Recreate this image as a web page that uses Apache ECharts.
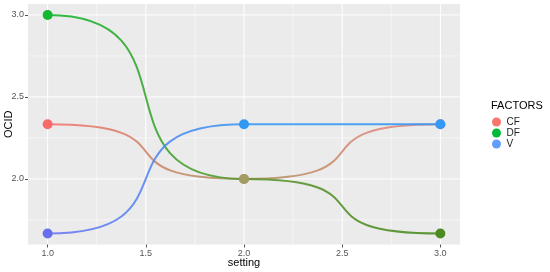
<html style="height: 100%">
<head>
	<meta charset="utf-8">
</head>
<body style="height: 100%; width: 100%; margin: 0">
	<div id="container" style="height: 100%; width: 100%;"></div>
	<script src="https://cdn.jsdelivr.net/npm/echarts@6/dist/echarts.min.js"></script>
	<script type="text/javascript">
		// data
		var settings = [1, 2, 3];
		var factors = ['CF', 'DF', 'V'];
		var cf = [2.333, 2.0, 2.333];
		var df = [3.0, 2.0, 1.667];
		var v = [1.667, 2.333, 2.333];
		var xTicks = [1.0, 1.5, 2.0, 2.5, 3.0];
		var xMinor = [1.25, 1.75, 2.25, 2.75];
		var yTicks = [2.0, 2.5, 3.0];
		var yMinor = [1.75, 2.25, 2.75];

		var legendColors = ['#F8766D', '#00BA38', '#619CFF'];
		// colours along each segment (start, end) and at each point
		var segColors = {
			CF: [['rgba(246,112,108,0.85)', 'rgba(170,150,100,0.9)'], ['rgba(170,150,100,0.9)', 'rgba(244,128,128,0.85)']],
			DF: [['rgba(20,184,50,0.9)', 'rgba(96,150,50,0.9)'], ['rgba(96,150,50,0.9)', 'rgba(75,140,35,0.9)']],
			V: [['rgba(105,112,240,0.85)', 'rgba(60,155,240,0.9)'], ['rgba(60,155,240,0.9)', 'rgba(55,152,242,0.9)']]
		};
		var pointColors = {
			CF: ['#f86a6a', '#a89a6a', '#f48080'],
			DF: ['#12b832', '#a29c64', '#4d8a22'],
			V: ['#6470f0', '#3097f2', '#3399f5']
		};
		var bend = 0.78;

		var dom = document.getElementById('container');
		var myChart = echarts.init(dom);

		function bumpItem(name, vals) {
			return function (params, api) {
				var i = params.dataIndex;
				if (i >= vals.length - 1) return null;
				var p0 = api.coord([settings[i], vals[i]]);
				var p1 = api.coord([settings[i + 1], vals[i + 1]]);
				var dx = (p1[0] - p0[0]) * bend;
				var c = segColors[name][i];
				return {
					type: 'bezierCurve',
					shape: {
						x1: p0[0], y1: p0[1], x2: p1[0], y2: p1[1],
						cpx1: p0[0] + dx, cpy1: p0[1], cpx2: p1[0] - dx, cpy2: p1[1]
					},
					style: {
						fill: null,
						lineWidth: 2,
						stroke: new echarts.graphic.LinearGradient(0, 0, 1, 0, [
							{offset: 0, color: c[0]}, {offset: 1, color: c[1]}
						])
					}
				};
			};
		}

		function gridItem(params, api) {
			var cs = params.coordSys;
			var lines = [];
			function add(val, isX, w) {
				var a;
				if (isX) {
					a = api.coord([val, 2]);
					lines.push({type: 'line', shape: {x1: a[0], y1: cs.y, x2: a[0], y2: cs.y + cs.height}, style: {stroke: '#ffffff', lineWidth: w}});
				} else {
					a = api.coord([1, val]);
					lines.push({type: 'line', shape: {x1: cs.x, y1: a[1], x2: cs.x + cs.width, y2: a[1]}, style: {stroke: '#ffffff', lineWidth: w}});
				}
			}
			xMinor.forEach(function (t) { add(t, true, 0.5); });
			yMinor.forEach(function (t) { add(t, false, 0.5); });
			xTicks.forEach(function (t) { add(t, true, 1); });
			yTicks.forEach(function (t) { add(t, false, 1); });
			return {type: 'group', children: lines};
		}

		var seriesVals = {CF: cf, DF: df, V: v};
		var series = [{
			type: 'custom',
			name: 'panel',
			silent: true,
			z: 0,
			renderItem: gridItem,
			data: [[1, 2]]
		}];

		factors.forEach(function (f) {
			var vals = seriesVals[f];
			series.push({
				type: 'custom',
				name: f + '-line',
				silent: true,
				z: 2,
				renderItem: bumpItem(f, vals),
				data: settings.map(function (s, i) { return [s, vals[i]]; })
			});
		});
		factors.forEach(function (f, k) {
			var vals = seriesVals[f];
			series.push({
				type: 'scatter',
				name: f,
				z: 3,
				symbolSize: 10,
				itemStyle: {color: legendColors[k], opacity: 1},
				data: settings.map(function (s, i) {
					return {value: [s, vals[i]], itemStyle: {color: pointColors[f][i]}};
				})
			});
		});

		var option = {
			backgroundColor: '#ffffff',
			animation: false,
			textStyle: {fontFamily: 'Liberation Sans, Arial, sans-serif'},
			grid: {
				left: 28, right: 90, top: 4, bottom: 27.5,
				outerBoundsMode: 'none',
				containLabel: false,
				show: true, backgroundColor: '#EBEBEB', borderWidth: 0
			},
			title: {
				text: 'FACTORS',
				left: 491, top: 100,
				padding: 0,
				textStyle: {fontSize: 11, fontWeight: 'normal', color: '#000'}
			},
			legend: {
				data: factors,
				orient: 'vertical',
				left: 492, top: 117,
				padding: 0,
				itemWidth: 10, itemHeight: 9, itemGap: 1,
				icon: 'circle',
				textStyle: {fontSize: 10, color: '#222'},
				selectedMode: false
			},
			xAxis: {
				type: 'value',
				min: 0.9, max: 3.1,
				name: 'setting',
				nameLocation: 'middle',
				nameGap: 13,
				nameMoveOverlap: false,
				nameTextStyle: {fontSize: 11, color: '#000', verticalAlign: 'top'},
				axisLine: {show: false},
				axisTick: {show: true, length: 3, customValues: xTicks, lineStyle: {color: '#555'}},
				axisLabel: {customValues: xTicks, fontSize: 9, color: '#555', margin: 5,
					formatter: function (val) { return val.toFixed(1); }},
				splitLine: {show: false}
			},
			yAxis: {
				type: 'value',
				min: 1.6, max: 3.0667,
				name: 'OCID',
				nameLocation: 'middle',
				nameGap: 14,
				nameMoveOverlap: false,
				nameTextStyle: {fontSize: 11, color: '#000'},
				axisLine: {show: false},
				axisTick: {show: true, length: 3, customValues: yTicks, lineStyle: {color: '#555'}},
				axisLabel: {customValues: yTicks, fontSize: 9, color: '#555', margin: 4,
					formatter: function (val) { return val.toFixed(1); }},
				splitLine: {show: false}
			},
			series: series
		};

		myChart.setOption(option);
	</script>
</body>
</html>
